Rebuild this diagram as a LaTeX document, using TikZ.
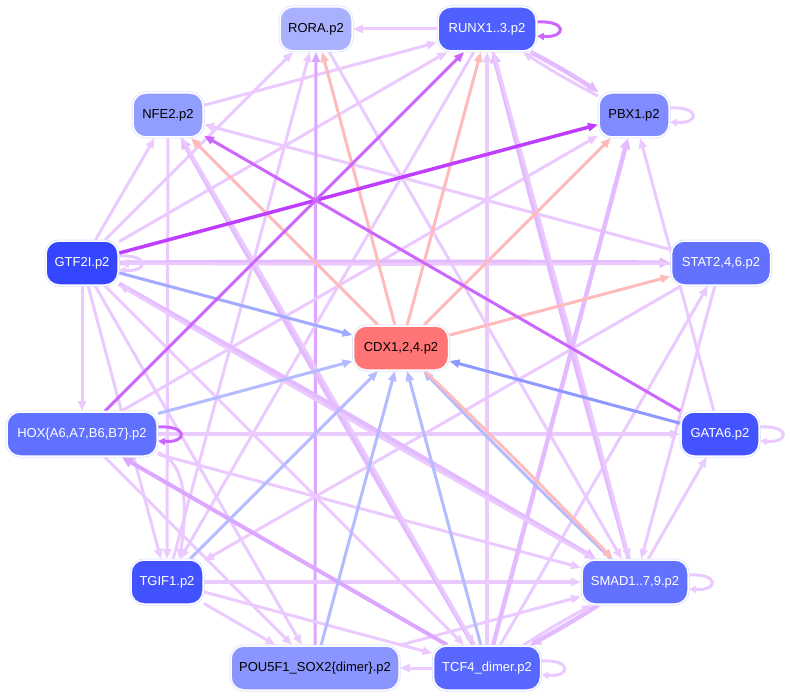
\documentclass[tikz,border=0pt]{standalone}
\usepackage{fontspec}
\setmainfont{Liberation Sans}
\usetikzlibrary{arrows.meta,backgrounds}
\definecolor{lav}{HTML}{EBCBFF}
\definecolor{lavd}{HTML}{E4BBFF}
\definecolor{lavp}{HTML}{DDA6FF}
\definecolor{pur}{HTML}{CC66FF}
\definecolor{mag}{HTML}{BF3DFF}
\definecolor{sal}{HTML}{FFBBBB}
\definecolor{bla}{HTML}{A3ABFF}
\definecolor{blb}{HTML}{B4BBFF}
\definecolor{blc}{HTML}{8E98FF}
\definecolor{nbord}{HTML}{DCE0FF}
\definecolor{cRORA}{HTML}{A9B1FF}
\definecolor{cRUNX}{HTML}{5060FF}
\definecolor{cNFE}{HTML}{919DFF}
\definecolor{cPBX}{HTML}{7F8BFF}
\definecolor{cGTF}{HTML}{3446FF}
\definecolor{cSTAT}{HTML}{6272FF}
\definecolor{cCDX}{HTML}{FF7575}
\definecolor{cHOX}{HTML}{6070FF}
\definecolor{cGATA}{HTML}{4353FF}
\definecolor{cTGIF}{HTML}{4352FF}
\definecolor{cSMAD}{HTML}{6272FF}
\definecolor{cPOU}{HTML}{8A95FF}
\definecolor{cTCF}{HTML}{5868FF}
\newcommand\rloop[2]{\draw[lo,draw=#2] ([yshift=7pt]#1.east) .. controls +(30,-2) and +(30,2) .. ([yshift=-7pt]#1.east);}
\tikzset{
  tf/.style={rounded corners=13pt, minimum height=44pt, inner sep=0pt, outer sep=1pt,
    font=\fontsize{13}{15}\selectfont, draw=white, line width=1.5pt,
    preaction={draw=nbord, line width=3pt}},
  e/.style={line width=3pt, draw=lav, -{Triangle[length=10pt,width=8pt]}},
  eT/.style={line width=4.5pt, draw=lavd, -{Triangle[length=11pt,width=10pt]}},
  lo/.style={line width=3pt, -{Triangle[length=7pt,width=7pt]}},
}
\begin{document}
\begin{tikzpicture}[x=1pt,y=-1pt]
\useasboundingbox (0,0) rectangle (790,698);
\node[tf, fill=cRORA, text=black, minimum width=72pt] (RORA) at (316,29) {RORA.p2};
\node[tf, fill=cRUNX, text=white, minimum width=98pt] (RUNX) at (487,29) {RUNX1..3.p2};
\node[tf, fill=cNFE, text=black, minimum width=70pt] (NFE2) at (168,115) {NFE2.p2};
\node[tf, fill=cPBX, text=black, minimum width=70pt] (PBX1) at (634,115) {PBX1.p2};
\node[tf, fill=cGTF, text=white, minimum width=72pt] (GTF2I) at (82,263) {GTF2I.p2};
\node[tf, fill=cSTAT, text=white, minimum width=99pt] (STAT) at (721,263) {STAT2,4,6.p2};
\node[tf, fill=cCDX, text=black, minimum width=95pt, preaction={draw=white!85!red}] (CDX) at (401,348) {CDX1,2,4.p2};
\node[tf, fill=cHOX, text=white, minimum width=150pt] (HOX) at (82,434) {HOX\{A6,A7,B6,B7\}.p2};
\node[tf, fill=cGATA, text=white, minimum width=78pt] (GATA6) at (720,434) {GATA6.p2};
\node[tf, fill=cTGIF, text=white, minimum width=72pt] (TGIF1) at (167,582) {TGIF1.p2};
\node[tf, fill=cSMAD, text=white, minimum width=106pt] (SMAD) at (635,582) {SMAD1..7,9.p2};
\node[tf, fill=cPOU, text=black, minimum width=168pt] (POU5F1) at (315,668) {POU5F1\_SOX2\{dimer\}.p2};
\node[tf, fill=cTCF, text=white, minimum width=107pt] (TCF4) at (487,668) {TCF4\_dimer.p2};
\begin{scope}[on background layer]
% lavender thin
\draw[e] (RUNX) -- (RORA);
\draw[e] (GTF2I) -- (NFE2);
\draw[e] (GTF2I) -- (RORA);
\draw[e] (GTF2I) -- (RUNX);
\draw[e] (NFE2) -- (RUNX);
\draw[e] (GTF2I) -- (HOX);
\draw[e] (STAT) -- (NFE2);
\draw[e] (NFE2) -- (TGIF1);
\draw[e] (TGIF1) -- (RORA);
\draw[e,draw=lavp] (POU5F1) -- (RORA);
\draw[e] (RORA) -- (SMAD);
\draw[e,line width=4pt] (TCF4) -- (RUNX);
\draw[e,line width=4pt] (HOX) -- (GATA6);
\draw[e,line width=3.5pt] (TGIF1) -- (SMAD);
\draw[e] (TCF4) -- (POU5F1);
\draw[e] (POU5F1) -- (SMAD);
\draw[e] (HOX) -- (SMAD);
\draw[e] (GTF2I) -- (TGIF1);
\draw[e] (HOX.-14) .. controls (190,462) and (186,520) .. (TGIF1.62);
\draw[e] (GTF2I) -- (POU5F1);
\draw[e] (HOX) -- (POU5F1);
\draw[e] (TGIF1) -- (POU5F1);
\draw[e] (TGIF1) -- (TCF4);
\draw[e] (STAT) -- (TGIF1);
\draw[e] (HOX) -- (PBX1);
\draw[e] (GATA6) -- (PBX1);
\draw[e] (STAT) -- (SMAD);
\draw[e] (SMAD) -- (GATA6);
\draw[e] (TCF4) -- (STAT);
\draw[e] (GTF2I) -- (TCF4);
\draw[e] (RUNX) -- (TGIF1);
% lavender thick
\draw[eT] (RUNX) to[bend left=2.5] (PBX1);
\draw[e] (PBX1) to[bend left=2.5] (RUNX);
\draw[eT] (GTF2I) to[bend left=0.35] (STAT);
\draw[e] (STAT) to[bend left=0.35] (GTF2I);
\draw[eT] (TCF4) to[bend left=0.45] (NFE2);
\draw[e] (NFE2) to[bend left=0.45] (TCF4);
\draw[eT] (SMAD) to[bend left=0.5] (RUNX);
\draw[e] (RUNX) to[bend left=0.5] (SMAD);
\draw[eT] (TCF4) -- (PBX1);
\draw[eT] (SMAD) to[bend left=2] (TCF4);
\draw[e] (TCF4) to[bend left=2] (SMAD);
\draw[eT] (GTF2I) to[bend left=0.5] (SMAD);
\draw[e] (SMAD) to[bend left=0.5] (GTF2I);
\draw[eT,draw=lavp,line width=4pt] (TCF4) -- (HOX);
% loops
\rloop{PBX1}{lav}
\rloop{GTF2I}{lav}
\rloop{GATA6}{lav}
\rloop{SMAD}{lav}
\rloop{TCF4}{lav}
% blue
\draw[e,draw=bla] (GTF2I) -- (CDX);
\draw[e,draw=blb] (HOX) -- (CDX);
\draw[e,draw=blb] (TGIF1) -- (CDX);
\draw[e,draw=blb] (POU5F1) -- (CDX);
\draw[e,draw=blb] (TCF4) -- (CDX);
\draw[e,draw=blb] (SMAD) to[bend left=1] (CDX);
\draw[e,draw=blc] (GATA6) -- (CDX);
% salmon
\draw[e,draw=sal] (CDX) -- (RORA);
\draw[e,draw=sal] (CDX) -- (RUNX);
\draw[e,draw=sal] (CDX) -- (NFE2);
\draw[e,draw=sal] (CDX) -- (PBX1);
\draw[e,draw=sal] (CDX) -- (STAT);
\draw[e,draw=sal] (CDX) to[bend left=1] (SMAD);
% purple
\draw[e,draw=mag,line width=3.5pt] (GTF2I) -- (PBX1);
\draw[e,draw=pur] (HOX) -- (RUNX);
\draw[e,draw=pur] (GATA6) -- (NFE2);
\rloop{RUNX}{pur}
\rloop{HOX}{pur}
\end{scope}
\end{tikzpicture}
\end{document}
